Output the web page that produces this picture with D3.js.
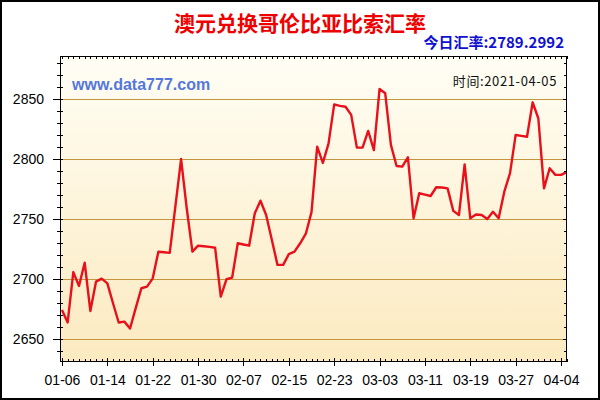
<!DOCTYPE html>
<html>
<head>
<meta charset="utf-8">
<script src="https://cdn.jsdelivr.net/npm/d3@7/dist/d3.min.js"></script>
<style>
  html, body { margin: 0; padding: 0; background: #fff; }
  svg { display: block; }
  .ax text { font-family: "Liberation Sans", Arial, sans-serif; font-size: 14px; fill: #000; }
  .ax path, .ax line { stroke: #000; shape-rendering: crispEdges; }
</style>
</head>
<body>
<svg id="chart" width="600" height="400"></svg>
<script>
// ---- data ----
const titleText = "澳元兑换哥伦比亚比索汇率";
const todayText = "今日汇率:2789.2992";
const siteText = "www.data777.com";
const timeText = "时间:2021-04-05";
const startDate = "2021-01-06";
const rates = [
  2674.4, 2664.0, 2706.0, 2694.4, 2713.8, 2673.6, 2698.0, 2700.5, 2696.6, 2680.0,
  2664.0, 2664.7, 2659.0, 2676.0, 2692.5, 2693.9, 2700.8, 2723.0, 2722.5, 2722.0,
  2761.0, 2800.2, 2759.0, 2723.0, 2728.0, 2727.5, 2727.0, 2726.3, 2685.5, 2700.0,
  2701.3, 2730.0, 2729.0, 2728.0, 2755.0, 2765.5, 2753.6, 2733.0, 2712.0, 2712.0,
  2721.0, 2723.0, 2730.0, 2738.0, 2756.0, 2810.5, 2797.0, 2813.0, 2845.8, 2844.5,
  2843.8, 2837.0, 2809.7, 2809.7, 2823.6, 2807.7, 2858.6, 2855.0, 2812.0, 2794.4,
  2793.9, 2801.7, 2750.8, 2771.7, 2770.5, 2769.4, 2776.7, 2776.5, 2775.8, 2757.0,
  2753.6, 2795.8, 2750.8, 2754.0, 2753.6, 2750.3, 2756.3, 2750.8, 2773.0, 2788.3,
  2820.3, 2819.5, 2818.8, 2847.5, 2834.0, 2775.8, 2792.5, 2787.0, 2787.0, 2789.3
];
const xTickLabels = ["01-06","01-14","01-22","01-30","02-07","02-15","02-23","03-03","03-11","03-19","03-27","04-04"];
const yTickLabels = [2650, 2700, 2750, 2800, 2850];
const yMin = 2631.3, yMax = 2886.1;

// ---- layout ----
const L = 60, R = 566.7, T = 56, B = 361.7;
const svg = d3.select("#chart");

const parse = d3.utcParse("%Y-%m-%d");
const d0 = parse(startDate);
const points = rates.map((v, i) => ({ date: d3.utcDay.offset(d0, i), value: v }));
const dLast = points[points.length - 1].date;

const x = d3.scaleUtc()
  .domain([new Date(+d0 - 0.35 * 864e5), dLast])
  .range([L, R]);
const y = d3.scaleLinear().domain([yMin, yMax]).range([B, T]);

// outer border
svg.append("rect").attr("x", 1).attr("y", 1).attr("width", 598).attr("height", 398)
  .attr("fill", "#fff").attr("stroke", "#000").attr("stroke-width", 2);

// plot background gradient
const defs = svg.append("defs");
const grad = defs.append("linearGradient").attr("id", "bg")
  .attr("x1", 0).attr("y1", 0).attr("x2", 0).attr("y2", 1);
grad.append("stop").attr("offset", "0%").attr("stop-color", "#fffef5");
grad.append("stop").attr("offset", "100%").attr("stop-color", "#fceac0");
svg.append("rect").attr("x", L).attr("y", T).attr("width", R - L).attr("height", B - T)
  .attr("fill", "url(#bg)");

// gridlines
svg.append("g").selectAll("line").data(yTickLabels).join("line")
  .attr("x1", L).attr("x2", R)
  .attr("y1", d => Math.round(y(d)) + 0.5).attr("y2", d => Math.round(y(d)) + 0.5)
  .attr("stroke", "#c3953f").attr("stroke-width", 1);

// texts
svg.append("text").attr("x", 300).attr("y", 31).attr("text-anchor", "middle")
  .attr("font-family", "'Noto Sans CJK SC', sans-serif").attr("font-weight", "bold")
  .attr("font-size", 21).attr("fill", "#ee0000").text(titleText);
svg.append("text").attr("x", 564).attr("y", 48).attr("text-anchor", "end")
  .attr("font-family", "'Noto Sans CJK SC', sans-serif").attr("font-weight", "bold")
  .attr("font-size", 15).attr("fill", "#1010d0").text(todayText);
svg.append("text").attr("x", 72).attr("y", 90)
  .attr("font-family", "'Liberation Sans', Arial, sans-serif").attr("font-weight", "bold")
  .attr("font-size", 16).attr("fill", "#5577dd").text(siteText);
svg.append("text").attr("x", 557).attr("y", 86).attr("text-anchor", "end")
  .attr("font-family", "'Noto Sans CJK SC', sans-serif")
  .attr("font-size", 13).attr("letter-spacing", 0.6).attr("fill", "#111").text(timeText);

// line
svg.append("path").datum(points)
  .attr("fill", "none").attr("stroke", "#e8101a").attr("stroke-width", 2.4)
  .attr("stroke-linejoin", "round")
  .attr("d", d3.line().x(d => x(d.date)).y(d => y(d.value)));

// axes
const dayTicks = d3.utcDay.range(d0, d3.utcDay.offset(dLast, 1));
const majorDates = xTickLabels.map(s => parse("2021-" + s));
const minorY = d3.range(2640, 2881, 10);

// left axis
const gl = svg.append("g").attr("class", "ax").attr("transform", `translate(${L},0)`);
gl.call(d3.axisLeft(y).tickValues(minorY).tickSize(3).tickSizeOuter(0).tickFormat(""));
gl.selectAll(".tick line").attr("x1", 3);
gl.select(".domain").remove();
const glm = svg.append("g").attr("class", "ax").attr("transform", `translate(${L},0)`);
glm.call(d3.axisLeft(y).tickValues(yTickLabels).tickSize(7).tickPadding(9).tickSizeOuter(0).tickFormat(d3.format("d")));
glm.selectAll(".tick line").attr("x1", 3);
glm.select(".domain").remove();

// right axis
const gr = svg.append("g").attr("class", "ax").attr("transform", `translate(${R},0)`);
gr.call(d3.axisRight(y).tickValues(minorY).tickSize(-3).tickSizeOuter(0).tickFormat(""));
gr.selectAll(".tick").filter(d => yTickLabels.includes(d)).select("line").attr("x2", -4);
gr.select(".domain").remove();

// bottom axis
const gb = svg.append("g").attr("class", "ax").attr("transform", `translate(0,${B})`);
gb.call(d3.axisBottom(x).tickValues(dayTicks).tickSize(-3).tickSizeOuter(0).tickFormat(""));
gb.select(".domain").remove();
const gbm = svg.append("g").attr("class", "ax").attr("transform", `translate(0,${B})`);
gbm.call(d3.axisBottom(x).tickValues(majorDates).tickSize(4).tickPadding(9.5).tickSizeOuter(0)
  .tickFormat((d, i) => xTickLabels[i]));
gbm.selectAll(".tick line").attr("y1", -4);
gbm.select(".domain").remove();

// top axis
const gt = svg.append("g").attr("class", "ax").attr("transform", `translate(0,${T})`);
gt.call(d3.axisTop(x).tickValues(dayTicks).tickSize(-3).tickSizeOuter(0).tickFormat(""));
gt.select(".domain").remove();

// frame
svg.append("rect").attr("x", L).attr("y", T).attr("width", R - L).attr("height", B - T)
  .attr("fill", "none").attr("stroke", "#000").attr("stroke-width", 1)
  .attr("shape-rendering", "crispEdges");
</script>
</body>
</html>
